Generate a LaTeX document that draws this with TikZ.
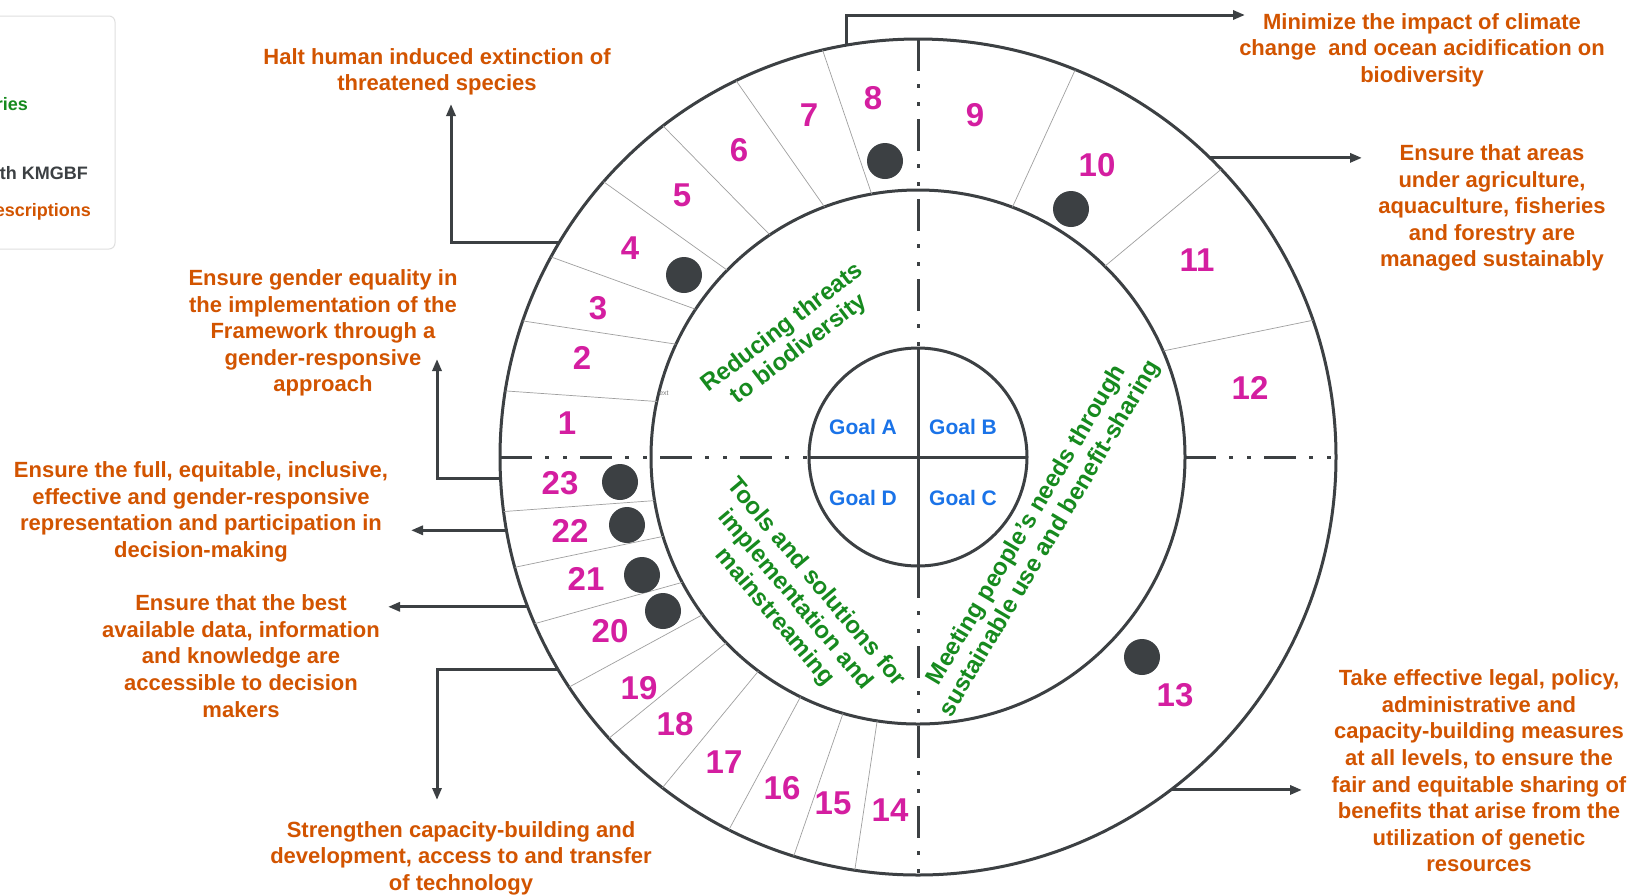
\documentclass[tikz,border=0pt]{standalone}
\usepackage{fontspec}
\setmainfont{Liberation Sans}
\usetikzlibrary{arrows.meta}

\definecolor{wheelgrey}{RGB}{60,64,67}
\definecolor{targetpink}{RGB}{212,30,160}
\definecolor{descorange}{RGB}{210,84,0}
\definecolor{themegreen}{RGB}{22,138,30}
\definecolor{goalblue}{RGB}{26,115,232}

\begin{document}
\begin{tikzpicture}[
        x=1pt, y=-1pt,
        ring/.style={draw=wheelgrey, line width=3pt},
        axis/.style={draw=wheelgrey, line width=3pt,
        dash pattern=on 32pt off 13pt on 4pt off 14pt on 4pt off 13pt},
        divider/.style={draw=gray!75, line width=0.7pt},
        num/.style={text=targetpink, inner sep=0pt,
        font=\fontsize{33}{33}\selectfont\bfseries},
        blob/.style={circle, fill=wheelgrey, inner sep=0pt, minimum size=36pt},
        goal/.style={text=goalblue, inner sep=0pt,
        font=\fontsize{21}{21}\selectfont\bfseries},
        theme/.style={text=themegreen, align=center, inner sep=0pt,
        font=\fontsize{24}{27}\selectfont\bfseries},
        desc/.style={text=descorange, align=center, inner sep=0pt,
        font=\fontsize{22}{26.6}\selectfont\bfseries},
        legend/.style={anchor=east, inner sep=0pt,
        font=\fontsize{18}{18}\selectfont\bfseries},
        link/.style={draw=wheelgrey, line width=3pt,
        -{Triangle[length=12pt,width=9pt]}},
        ]

        \fill[white] (0,0) rectangle (1633,895);
        \useasboundingbox (0,0) rectangle (1633,895);

        % legend, cut by the left edge
        \draw[draw=gray!25, line width=1pt, rounded corners=6pt] (-20,16) rectangle (115,249);
        \node (lg1) [legend, text=themegreen] at (28,104) {ries};
        \node (lg2) [legend, text=wheelgrey] at (88,173) {th KMGBF};
        \node (lg3) [legend, text=descorange] at (91,212) {escriptions};

        % wheel
        \begin{scope}[shift={(918,457)}, y=1pt]
        \draw[ring] (0,0) circle[radius=418];
        \draw[ring] (0,0) circle[radius=267];
        \draw[ring] (0,0) circle[radius=109];

        \draw[divider] (170.9:418) -- (168:267);
        \draw[divider] (161:418) -- (155:267);
        \draw[divider] (151.4:418) -- (146.4:267);
        \draw[divider] (138.8:418) -- (135.6:267);
        \draw[divider] (127.6:418) -- (123.7:267);
        \draw[divider] (115.8:418) -- (110.5:267);
        \draw[divider] (103.2:418) -- (100:267);
        \draw[divider] (67.9:418) -- (69.3:267);
        \draw[divider] (43.5:418) -- (45.6:267);
        \draw[divider] (19.1:418) -- (23.4:267);
        \draw[divider] (187.5:418) -- (189.4:267);
        \draw[divider] (195.3:418) -- (197.3:267);
        \draw[divider] (203.5:418) -- (208:267);
        \draw[divider] (213.4:418) -- (216.2:267);
        \draw[divider] (222.3:418) -- (224.1:267);
        \draw[divider] (232.3:418) -- (233.3:267);
        \draw[divider] (243.1:418) -- (243.9:267);
        \draw[divider] (252.7:418) -- (253.7:267);
        \draw[divider] (261.3:418) -- (261.2:267);

        \coordinate (s1) at (149.2:418);
        \coordinate (s2) at (99.8:418);
        \coordinate (s3) at (45.7:418);
        \coordinate (s4) at (182.9:418);
        \coordinate (s5) at (190.1:418);
        \coordinate (s6) at (201:418);
        \coordinate (s7) at (210.6:418);
        \coordinate (s8) at (307.2:418);
        \end{scope}

        \draw[axis] (918,39) -- (918,348);
        \draw[axis] (918,566) -- (918,875);
        \draw[axis] (500,457) -- (809,457);
        \draw[axis] (1184,457) -- (1336,457);
        \draw[ring] (918,348) -- (918,566);
        \draw[ring] (809,457) -- (1027,457);

        \node (stray) [text=gray, inner sep=0pt, font=\fontsize{7}{7}\selectfont] at (664,393) {ext};

        % targets
        \node (n1) [num] at (567,423) {1};
        \node (n2) [num] at (582,358) {2};
        \node (n3) [num] at (598,308) {3};
        \node (n4) [num] at (630,248) {4};
        \node (n5) [num] at (682,195) {5};
        \node (n6) [num] at (739,150) {6};
        \node (n7) [num] at (809,115) {7};
        \node (n8) [num] at (873,98) {8};
        \node (n9) [num] at (975,115) {9};
        \node (n10) [num] at (1097,165) {10};
        \node (n11) [num] at (1197,260) {11};
        \node (n12) [num] at (1250,388) {12};
        \node (n13) [num] at (1175,695) {13};
        \node (n14) [num] at (890,810) {14};
        \node (n15) [num] at (833,803) {15};
        \node (n16) [num] at (782,788) {16};
        \node (n17) [num] at (724,762) {17};
        \node (n18) [num] at (675,724) {18};
        \node (n19) [num] at (639,688) {19};
        \node (n20) [num] at (610,631) {20};
        \node (n21) [num] at (586,579) {21};
        \node (n22) [num] at (570,531) {22};
        \node (n23) [num] at (560,483) {23};

        \node (d8) [blob] at (885,161) {};
        \node (d4) [blob] at (684,275) {};
        \node (d10) [blob] at (1071,209) {};
        \node (d13) [blob] at (1142,657) {};
        \node (d23) [blob] at (620,482) {};
        \node (d22) [blob] at (627,525) {};
        \node (d21) [blob] at (642,575) {};
        \node (d20) [blob] at (663,611) {};

        % goals and themes
        \node (ga) [goal] at (863,427) {Goal A};
        \node (gb) [goal] at (963,427) {Goal B};
        \node (gd) [goal] at (863,498) {Goal D};
        \node (gc) [goal] at (963,498) {Goal C};

        \node (threats) [theme, rotate=37.5] at (791,339) {Reducing threats\\to biodiversity};
        \node (tools) [theme, rotate=-50] at (795,600) {Tools and solutions for\\implementation and\\mainstreaming};
        \node (needs) [theme, rotate=59.3] at (1039,532) {Meeting people's needs through\\sustainable use and benefit-sharing};

        % descriptions
        \node (t4) [desc] at (437,72) {Halt human induced extinction of\\threatened species};
        \node (t8) [desc] at (1422,50) {Minimize the impact of climate\\change~ and ocean acidification on\\biodiversity};
        \node (t10) [desc] at (1492,208) {Ensure that areas\\under agriculture,\\aquaculture, fisheries\\and forestry are\\managed sustainably};
        \node (t23) [desc] at (323,333) {Ensure gender equality in\\the implementation of the\\Framework through a\\gender-responsive\\approach};
        \node (t22) [desc] at (201,512) {Ensure the full, equitable, inclusive,\\effective and gender-responsive\\representation and participation in\\decision-making};
        \node (t21) [desc] at (241,656) {Ensure that the best\\available data, information\\and knowledge are\\accessible to decision\\makers};
        \node (t20) [desc] at (461,858) {Strengthen capacity-building and\\development, access to and transfer\\of technology};
        \node (t13) [desc] at (1479,771) {Take effective legal, policy,\\administrative and\\capacity-building measures\\at all levels, to ensure the\\fair and equitable sharing of\\benefits that arise from the\\utilization of genetic\\resources};

        % connectors
        \coordinate (e1) at (451,104);
        \coordinate (e2) at (1245,15);
        \coordinate (e3) at (1362,158);
        \coordinate (e4) at (437,359);
        \coordinate (e5) at (411,530);
        \coordinate (e6) at (388,607);
        \coordinate (e7) at (437,800);
        \coordinate (e8) at (1302,790);

        \draw[link] (s1) -| (e1);
        \draw[link] (s2) |- (e2);
        \draw[link] (s3) -- (s3 -| e3);
        \draw[link] (s4) -| (e4);
        \draw[link] (s5) -- (s5 -| e5);
        \draw[link] (s6) -- (s6 -| e6);
        \draw[link] (s7) -| (e7);
        \draw[link] (s8) -- (s8 -| e8);
    \end{tikzpicture}
\end{document}
